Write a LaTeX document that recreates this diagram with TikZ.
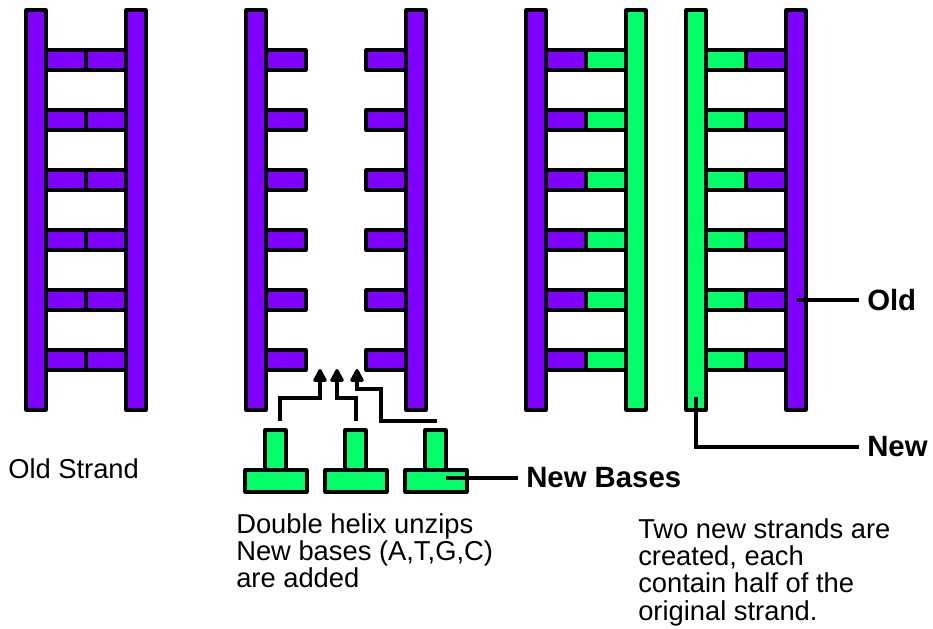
\documentclass[tikz,border=0pt]{standalone}
\usepackage{fontspec}
\setmainfont{Liberation Sans}
\usepackage{tikz}
\usetikzlibrary{arrows.meta}
\definecolor{DNAPurple}{HTML}{8000FF}
\definecolor{DNAGreen}{HTML}{00FF66}

\begin{document}
\begin{tikzpicture}[
      x=0.75pt,y=-0.75pt,
      strand/.style={draw=black,line width=2.3pt,line join=round},
      oldpart/.style={strand,fill=DNAPurple},
      newpart/.style={strand,fill=DNAGreen},
      feed/.style={-{Triangle[length=11pt,width=11pt,round]},line width=2.3pt},
      leader/.style={line width=2.3pt},
      caption/.style={font=\fontsize{20.5}{20.5}\selectfont,align=left,
        inner sep=0pt},
      tag/.style={font=\fontsize{22}{22}\selectfont\bfseries,
        inner xsep=6pt,inner ysep=0pt}
    ]
      \useasboundingbox (0,0) rectangle (933,629);

      \foreach \y in {60,120,...,360} {
        \draw[oldpart] (46,\y-10) rectangle (86,\y+10);
        \draw[oldpart] (86,\y-10) rectangle (126,\y+10);
        \draw[oldpart] (266,\y-10) rectangle (306,\y+10);
        \draw[oldpart] (366,\y-10) rectangle (406,\y+10);
        \draw[oldpart] (546,\y-10) rectangle (586,\y+10);
        \draw[newpart] (586,\y-10) rectangle (626,\y+10);
        \draw[newpart] (706,\y-10) rectangle (746,\y+10);
        \draw[oldpart] (746,\y-10) rectangle (786,\y+10);
      }
      \draw[oldpart] (26,10) rectangle (46,410);
      \draw[oldpart] (126,10) rectangle (146,410);
      \draw[oldpart] (246,10) rectangle (266,410);
      \draw[oldpart] (406,10) rectangle (426,410);
      \draw[oldpart] (526,10) rectangle (546,410);
      \draw[newpart] (626,10) rectangle (646,410);
      \draw[newpart] (686,10) rectangle (706,410);
      \draw[oldpart] (786,10) rectangle (806,410);

      \foreach \x in {245,325,405} {
        \draw[newpart] (\x+20,430) rectangle (\x+41,470);
        \draw[newpart] (\x,470) rectangle (\x+62,492);
      }

      \coordinate (s1) at (280,421);
      \coordinate (t1) at (320,369);
      \coordinate (s2) at (356,421);
      \coordinate (t2) at (337,369);
      \coordinate (s3) at (437,421);
      \coordinate (t3) at (357,369);
      \draw[feed] (s1) -- ++(0,-23) -| (t1);
      \draw[feed] (s2) -- ++(0,-23) -| (t2);
      \draw[feed] (s3) -- ++(-56,0) -- ++(0,-32) -| (t3);

      \coordinate (bp) at (446,478);
      \coordinate (op) at (797,300);
      \coordinate (np) at (696,397);
      \node[tag,anchor=west] (nb) at (518,478) {New Bases};
      \node[tag,anchor=west] (ol) at (859,300) {Old};
      \node[tag,anchor=west] (nw) at (859,447) {New};
      \draw[leader] (bp) -- (nb.west);
      \draw[leader] (op) -- (ol.west);
      \draw[leader] (np) |- (nw.west);

      \node[caption,anchor=base west] (os) at (8,478) {Old Strand};
      \node[caption,anchor=north west] (dh) at (236,513)
        {Double helix unzips\\New bases (A,T,G,C)\\are added};
      \node[caption,anchor=north west] (tn) at (638,518)
        {Two new strands are\\created, each\\contain half of the\\original strand.};
    \end{tikzpicture}
\end{document}
